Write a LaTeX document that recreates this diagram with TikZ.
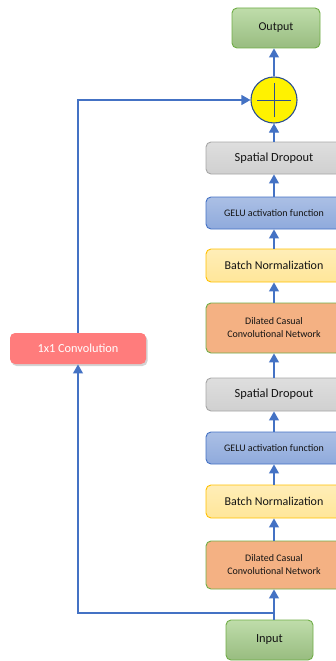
\documentclass[tikz,border=0pt]{standalone}
\usepackage{fontspec}
\setmainfont{Carlito}
\usetikzlibrary{arrows.meta,shadows}

\definecolor{linkblue}{HTML}{4472C4}
\definecolor{txt}{HTML}{141414}
\definecolor{grnfill}{HTML}{A9D18E}
\definecolor{grnline}{HTML}{70AD47}
\definecolor{grayfill}{HTML}{D0D0D0}
\definecolor{grayline}{HTML}{A6A6A6}
\definecolor{bluefill}{HTML}{8FAADC}
\definecolor{blueline}{HTML}{4472C4}
\definecolor{yelfill}{HTML}{FFE699}
\definecolor{yelline}{HTML}{FFC000}
\definecolor{orgfill}{HTML}{F4B183}
\definecolor{redfill}{HTML}{FF7C7C}
\definecolor{sumline}{HTML}{2F528F}

\tikzset{
  blk/.style={rectangle, rounded corners=5pt, line width=0.9pt, text=txt,
              align=center, inner sep=2pt},
  greenblk/.style={blk, draw=grnline, top color=grnfill!75!white, bottom color=grnfill!90!black},
  grayblk/.style={blk, draw=grayline, top color=grayfill!70!white, bottom color=grayfill},
  blueblk/.style={blk, draw=blueline, top color=bluefill!75!white, bottom color=bluefill},
  yelblk/.style={blk, draw=yelline, top color=yelfill!70!white, bottom color=yelfill},
  orgblk/.style={blk, draw=grnline, fill=orgfill},
  colblk/.style={minimum width=136pt},
  link/.style={draw=linkblue, line width=1.1pt,
               -{Triangle[width=10pt,length=9pt]}},
}

\begin{document}
\begin{tikzpicture}[x=1pt, y=-1pt]
\useasboundingbox (0,0) rectangle (336,661);

% main column
\node[greenblk, minimum width=88pt, minimum height=40pt, font=\fontsize{12}{14}\selectfont] (out) at (276,28) {Output};
\node[circle, draw=sumline, line width=1.1pt, fill=yellow, minimum size=46pt, inner sep=0pt] (sum) at (274,100) {};
\draw[sumline, line width=0.6pt] ([xshift=-17pt]sum.center) -- ([xshift=17pt]sum.center)
      ([yshift=-17pt]sum.center) -- ([yshift=17pt]sum.center);

\node[grayblk, colblk, minimum height=32pt, font=\fontsize{12.4}{14}\selectfont] (sd1) at (274,158) {Spatial Dropout};
\node[blueblk, colblk, minimum height=32pt, font=\fontsize{10}{12}\selectfont] (ge1) at (274,213) {GELU activation function};
\node[yelblk, colblk, minimum height=33pt, font=\fontsize{12}{14}\selectfont] (bn1) at (274,265.5) {Batch Normalization};
\node[orgblk, colblk, minimum height=50pt, font=\fontsize{10}{13}\selectfont] (dc1) at (274,328) {Dilated Casual\\Convolutional Network};
\node[grayblk, colblk, minimum height=33pt, font=\fontsize{12.4}{14}\selectfont] (sd2) at (274,394.5) {Spatial Dropout};
\node[blueblk, colblk, minimum height=32pt, font=\fontsize{10}{12}\selectfont] (ge2) at (274,448) {GELU activation function};
\node[yelblk, colblk, minimum height=33pt, font=\fontsize{12}{14}\selectfont] (bn2) at (274,501.5) {Batch Normalization};
\node[orgblk, colblk, minimum height=48pt, font=\fontsize{10}{13}\selectfont] (dc2) at (274,565) {Dilated Casual\\Convolutional Network};
\node[greenblk, minimum width=87pt, minimum height=40pt, font=\fontsize{12.4}{14}\selectfont] (in) at (269.5,640) {Input};

% residual branch
\node[blk, draw=none, fill=redfill, text=white, minimum width=136pt, minimum height=31pt,
      font=\fontsize{12.3}{14}\selectfont, drop shadow={opacity=0.35, shadow xshift=1.5pt, shadow yshift=-2pt}] (conv) at (78,348.5) {1x1 Convolution};

\coordinate (split) at (274,613);

% connectors
\draw[link] (in.north -| split) -- (dc2.south);
\draw[link] (dc2.north) -- (bn2.south);
\draw[link] (bn2.north) -- (ge2.south);
\draw[link] (ge2.north) -- (sd2.south);
\draw[link] (sd2.north) -- (dc1.south);
\draw[link] (dc1.north) -- (bn1.south);
\draw[link] (bn1.north) -- (ge1.south);
\draw[link] (ge1.north) -- (sd1.south);
\draw[link] (sd1.north) -- (sum.south);
\draw[link] (sum.north) -- (sum.north |- out.south);
\draw[link] (split) -| (conv.south);
\draw[link] (conv.north) |- (sum.west);
\end{tikzpicture}
\end{document}
